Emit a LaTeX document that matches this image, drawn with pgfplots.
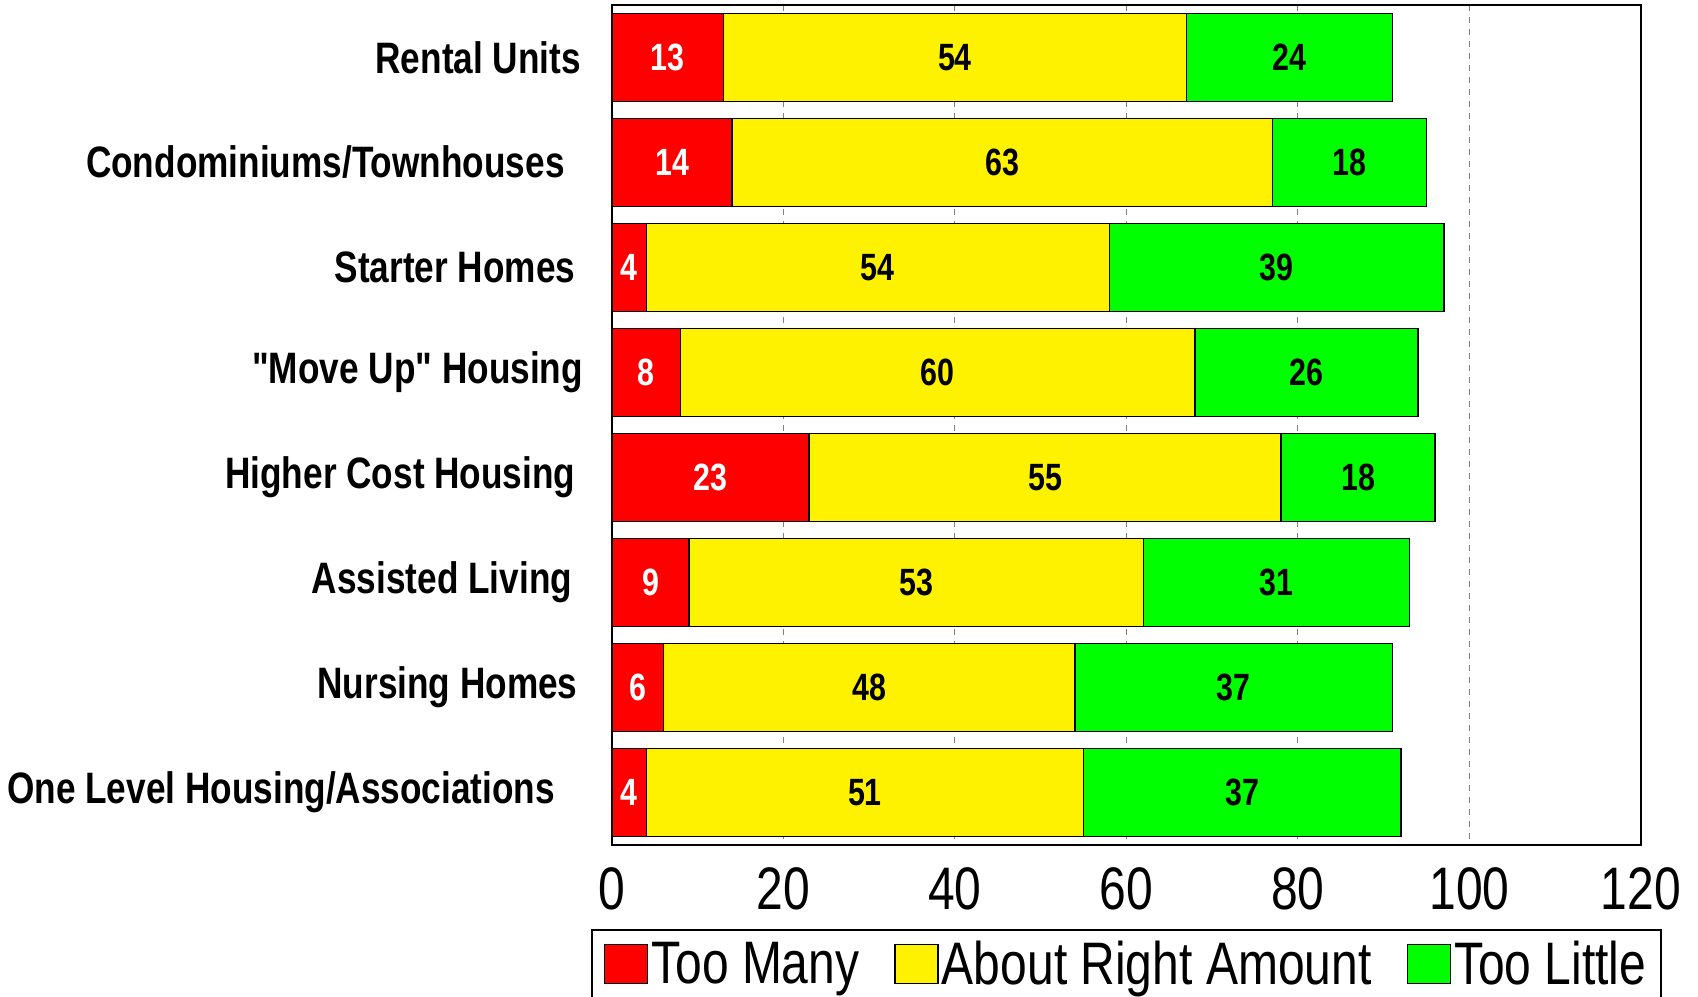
\documentclass[border=0pt]{standalone}
\usepackage{fontspec}
\setmainfont{Liberation Sans}[FakeStretch=0.8, Ligatures=TeXOff]
\usepackage{pgfplots}
\usepackage{pgfplotstable}
\pgfplotsset{compat=1.18}

\pgfplotstableread{
idx many right little
0 13 54 24
1 14 63 18
2 4 54 39
3 8 60 26
4 23 55 18
5 9 53 31
6 6 48 37
7 4 51 37
}\datatable

\begin{document}
\begin{tikzpicture}
\begin{axis}[
  scale only axis, width=514.5pt, height=420pt,
  xbar stacked, bar width=0.835,
  xmin=0, xmax=120, ymin=-0.5, ymax=7.5, y dir=reverse,
  xtick={0,20,...,120}, ytick={0,...,7},
  yticklabels={Rental Units\kern1pt, Condominiums/Townhouses\kern9.2pt, Starter Homes\kern3.8pt, \char34 Move Up\char34{} Housing, Higher Cost Housing\kern3.8pt, Assisted Living\kern5.4pt, Nursing Homes\kern2.7pt, One Level Housing/Associations\kern14pt},
  major tick length=0pt,
  xmajorgrids, major grid style={gray, dashed, line width=0.5pt},
  axis line style={line width=1pt},
  /pgf/number format/assume math mode=true,
  xticklabel style={font=\fontsize{30}{35}\selectfont, yshift=-8pt},
  yticklabel style={font=\fontsize{22}{26}\selectfont\bfseries, xshift=-11pt},
  legend image code/.code={\draw[#1, line width=0.75pt] (0pt,-9.75pt) rectangle (21.5pt,9.75pt);},
  legend style={at={(0.5,0)}, anchor=north, yshift=-42pt, legend columns=3, draw=black, line width=1pt,
    font=\fontsize{30}{35}\selectfont, inner xsep=6pt, inner ysep=4pt,
    nodes={inner sep=1.5pt},
    /tikz/every even column/.append style={column sep=16pt}},
  point meta=explicit symbolic,
  nodes near coords={\pgfplotspointmeta},
  nodes near coords align={center},
  every node near coord/.append style={anchor=center, font=\fontsize{19}{22}\selectfont\bfseries},
]
\addplot[fill=red, draw=black, line width=0.75pt,
  every node near coord/.append style={text=white}]
  table[x=many, y=idx, meta=many] {\datatable};
\addplot[fill=yellow, draw=black, line width=0.75pt,
  every node near coord/.append style={text=black}]
  table[x=right, y=idx, meta=right] {\datatable};
\addplot[fill=green, draw=black, line width=0.75pt,
  every node near coord/.append style={text=black}]
  table[x=little, y=idx, meta=little] {\datatable};
\legend{Too Many, About Right Amount, Too Little}
\end{axis}
\pgfresetboundingbox
\path[use as bounding box] ([xshift=-306pt,yshift=-76pt]current axis.south west) rectangle ([xshift=28.5pt,yshift=2.5pt]current axis.north east);
\end{tikzpicture}
\end{document}
